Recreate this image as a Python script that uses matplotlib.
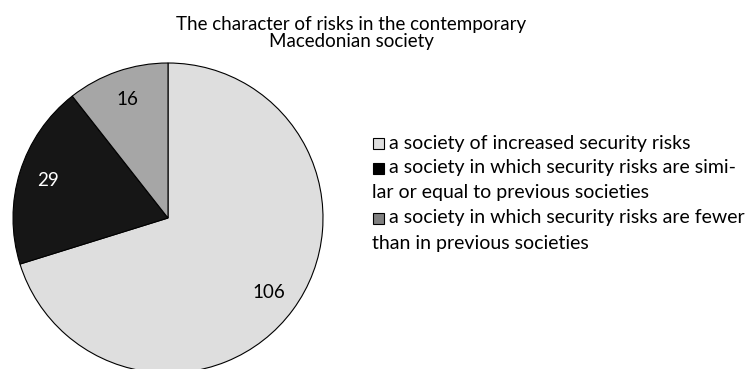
import matplotlib.pyplot as plt
from matplotlib.patches import Rectangle

plt.rcParams['font.family'] = ['Lato', 'DejaVu Sans']

title = "The character of risks in the contemporary\nMacedonian society"
values = [106, 29, 16]
colors = ["#dedede", "#161616", "#a6a6a6"]
marker_colors = ["#dedede", "#000000", "#808080"]
legend_lines = [
    ["a society of increased security risks"],
    ["a society in which security risks are simi-", "lar or equal to previous societies"],
    ["a society in which security risks are fewer", "than in previous societies"],
]
label_colors = ["black", "white", "black"]

W, H = 752, 369
fig = plt.figure(figsize=(W / 100, H / 100), dpi=100)

# pie: centre ~ (168, 218) px, radius ~155 px (bottom runs off the figure)
ax = fig.add_axes([13 / W, 1 - 373 / H, 310 / W, 310 / H])
total = sum(values)
wedges, texts, autotexts = ax.pie(
    values, colors=colors, startangle=90, counterclock=False,
    autopct=lambda p: f"{p * total / 100:.0f}", pctdistance=0.81,
    wedgeprops=dict(edgecolor="black", linewidth=0.8),
    textprops=dict(fontsize=13.5),
)
for t, c in zip(autotexts, label_colors):
    t.set_color(c)
ax.set_xlim(-1.0, 1.0)
ax.set_ylim(-1.0, 1.0)
ax.set_aspect("equal")

fig.text(351 / W, 1 - 33 / H, title, ha="center", va="center",
         fontsize=13.5, linespacing=0.95)

# legend drawn by hand so wrapped lines start under the marker
y = 143
for lines, mc in zip(legend_lines, marker_colors):
    for i, line in enumerate(lines):
        if i == 0:
            fig.patches.append(Rectangle((373 / W, 1 - (y + 6) / H), 11 / W, 11 / H,
                                         transform=fig.transFigure, facecolor=mc,
                                         edgecolor="black", linewidth=0.8))
            fig.text(389 / W, 1 - y / H, line, ha="left", va="center", fontsize=14)
        else:
            fig.text(372 / W, 1 - y / H, line, ha="left", va="center", fontsize=14)
        y += 25

fig.savefig("out.png", dpi=100)
plt.close()
